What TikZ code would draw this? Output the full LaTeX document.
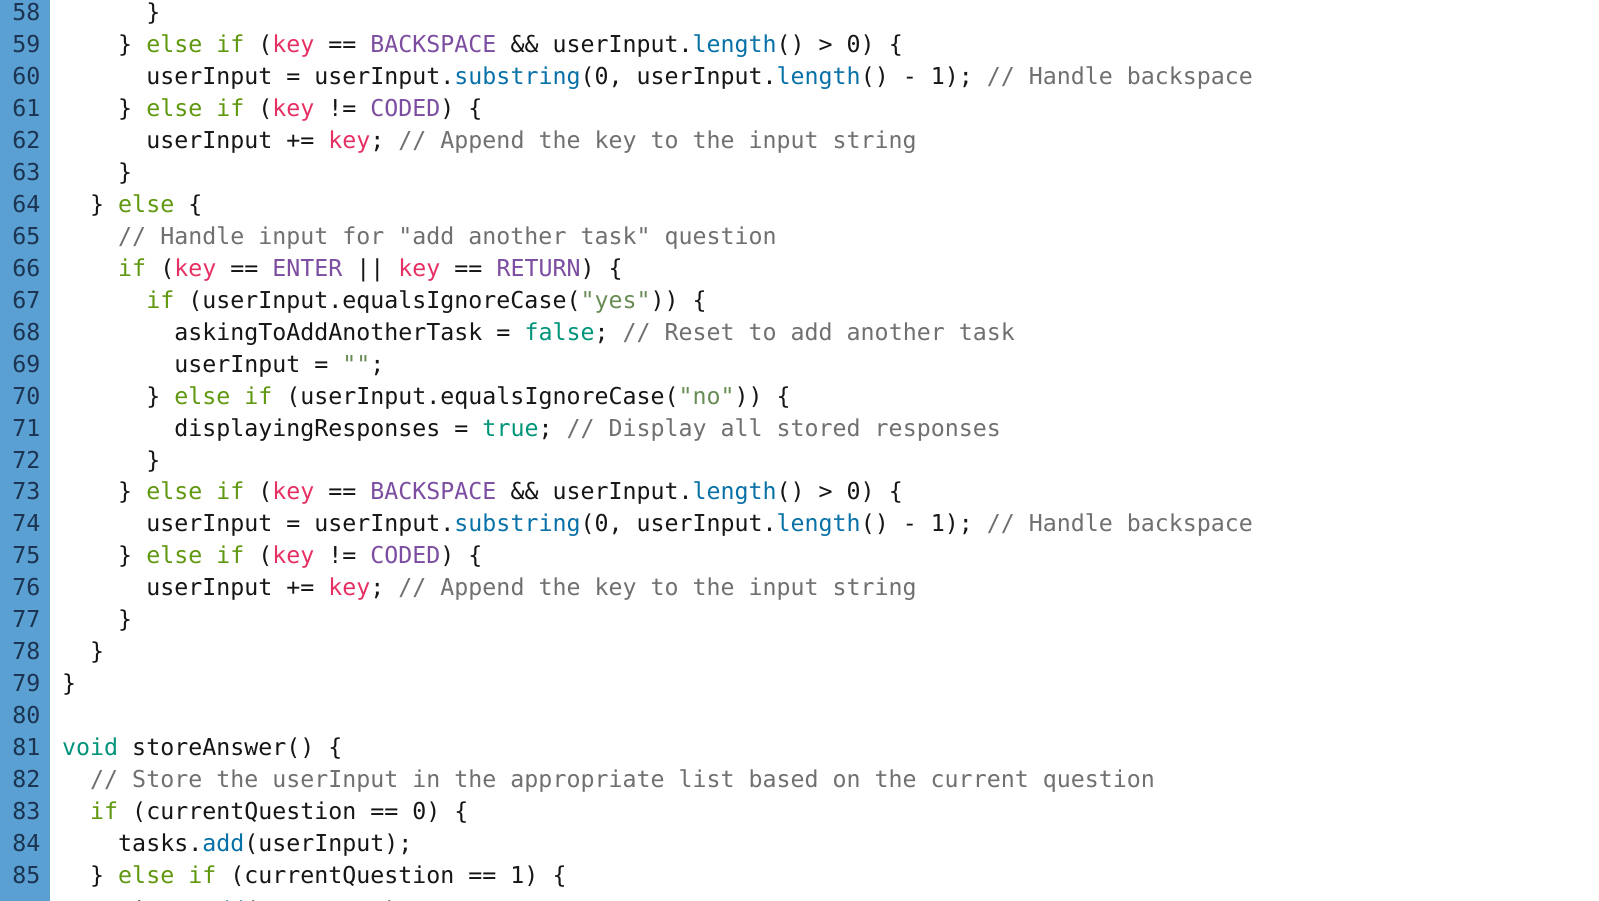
\documentclass[tikz,border=0pt]{standalone}
\usepackage{fontspec}
\setmonofont{DejaVu Sans Mono}
\definecolor{bgside}{RGB}{90,160,210}
\definecolor{numc}{RGB}{28,52,82}
\definecolor{txtc}{RGB}{22,22,22}
\definecolor{kwc}{RGB}{96,152,16}
\definecolor{keyc}{RGB}{230,48,100}
\definecolor{cnc}{RGB}{124,77,160}
\definecolor{fnc}{RGB}{8,113,168}
\definecolor{litc}{RGB}{0,148,122}
\definecolor{strc}{RGB}{104,140,84}
\definecolor{cmtc}{RGB}{112,112,112}
\newcommand\Kw[1]{\textcolor{kwc}{#1}}
\newcommand\Ky[1]{\textcolor{keyc}{#1}}
\newcommand\Cn[1]{\textcolor{cnc}{#1}}
\newcommand\Fn[1]{\textcolor{fnc}{#1}}
\newcommand\Lit[1]{\textcolor{litc}{#1}}
\newcommand\Str[1]{\textcolor{strc}{#1}}
\newcommand\Cmt[1]{\textcolor{cmtc}{#1}}
\begin{document}
\begin{tikzpicture}[x=1pt,y=-1pt,
  codeline/.style={anchor=base west,inner sep=0pt,text=txtc,
    font=\ttfamily\fontsize{23.27}{32}\selectfont},
  lnum/.style={anchor=base east,inner sep=0pt,text=numc,
    font=\ttfamily\fontsize{23.27}{32}\selectfont}]
\newcommand\CodeLine[4]{\node[codeline] (#1) at ({62+14.01*#3},{21+31.93*#2}) {#4};}
\useasboundingbox (0,0) rectangle (1599,901);
\fill[white] (0,0) rectangle (1599,901);
\fill[bgside] (0,0) rectangle (50,901);
\foreach \i in {58,...,85}{
  \node[lnum] (n\i) at ({40.5},{21+31.93*(\i-58)}) {\i};
}
\CodeLine{l58}{0}{6}{\}}
\CodeLine{l59}{1}{4}{\} \Kw{else} \Kw{if} (\Ky{key} == \Cn{BACKSPACE} \&\& userInput.\Fn{length}() > 0) \{}
\CodeLine{l60}{2}{6}{userInput = userInput.\Fn{substring}(0, userInput.\Fn{length}() - 1); \Cmt{// Handle backspace}}
\CodeLine{l61}{3}{4}{\} \Kw{else} \Kw{if} (\Ky{key} != \Cn{CODED}) \{}
\CodeLine{l62}{4}{6}{userInput += \Ky{key}; \Cmt{// Append the key to the input string}}
\CodeLine{l63}{5}{4}{\}}
\CodeLine{l64}{6}{2}{\} \Kw{else} \{}
\CodeLine{l65}{7}{4}{\Cmt{// Handle input for "add another task" question}}
\CodeLine{l66}{8}{4}{\Kw{if} (\Ky{key} == \Cn{ENTER} || \Ky{key} == \Cn{RETURN}) \{}
\CodeLine{l67}{9}{6}{\Kw{if} (userInput.equalsIgnoreCase(\Str{"yes"})) \{}
\CodeLine{l68}{10}{8}{askingToAddAnotherTask = \Lit{false}; \Cmt{// Reset to add another task}}
\CodeLine{l69}{11}{8}{userInput = \Str{""};}
\CodeLine{l70}{12}{6}{\} \Kw{else} \Kw{if} (userInput.equalsIgnoreCase(\Str{"no"})) \{}
\CodeLine{l71}{13}{8}{displayingResponses = \Lit{true}; \Cmt{// Display all stored responses}}
\CodeLine{l72}{14}{6}{\}}
\CodeLine{l73}{15}{4}{\} \Kw{else} \Kw{if} (\Ky{key} == \Cn{BACKSPACE} \&\& userInput.\Fn{length}() > 0) \{}
\CodeLine{l74}{16}{6}{userInput = userInput.\Fn{substring}(0, userInput.\Fn{length}() - 1); \Cmt{// Handle backspace}}
\CodeLine{l75}{17}{4}{\} \Kw{else} \Kw{if} (\Ky{key} != \Cn{CODED}) \{}
\CodeLine{l76}{18}{6}{userInput += \Ky{key}; \Cmt{// Append the key to the input string}}
\CodeLine{l77}{19}{4}{\}}
\CodeLine{l78}{20}{2}{\}}
\CodeLine{l79}{21}{0}{\}}
\CodeLine{l81}{23}{0}{\Lit{void} storeAnswer() \{}
\CodeLine{l82}{24}{2}{\Cmt{// Store the userInput in the appropriate list based on the current question}}
\CodeLine{l83}{25}{2}{\Kw{if} (currentQuestion == 0) \{}
\CodeLine{l84}{26}{4}{tasks.\Fn{add}(userInput);}
\CodeLine{l85}{27}{2}{\} \Kw{else} \Kw{if} (currentQuestion == 1) \{}
\CodeLine{l86}{28.1}{4}{times.\Fn{add}(userInput);}
\end{tikzpicture}
\end{document}
